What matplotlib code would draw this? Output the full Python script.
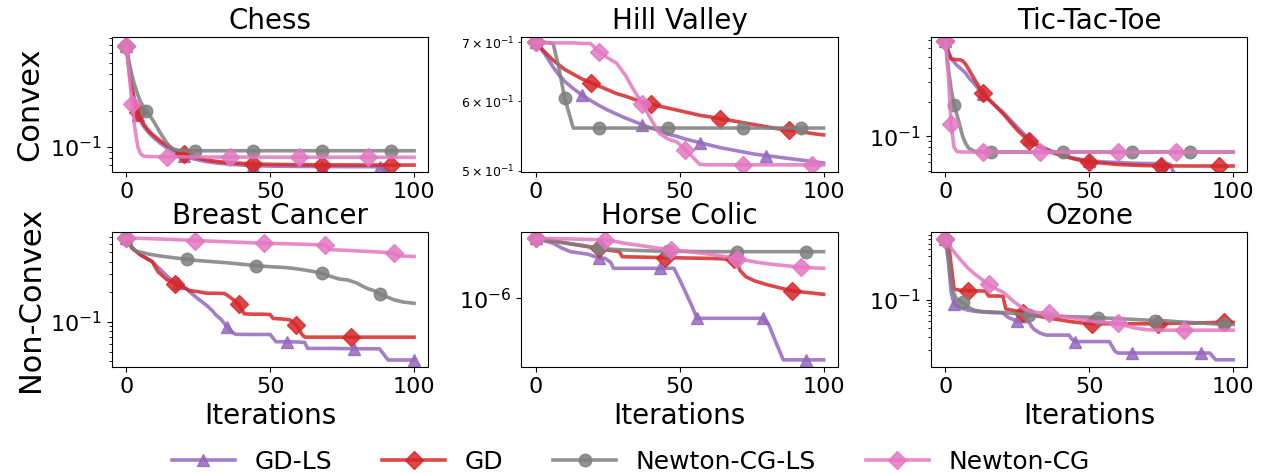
import matplotlib.pyplot as plt
from matplotlib.ticker import NullLocator

methods = ['GD-LS', 'GD', 'Newton-CG-LS', 'Newton-CG']
colors = ['tab:purple', 'tab:red', 'tab:gray', 'tab:pink']
markers = ['^', 'D', 'o', 'D']

# ---- Chess (convex) ----
chess_it = [0, 1, 2, 3, 4, 5, 6, 7, 8, 10, 12, 14, 16, 18, 20, 24, 28, 32, 36, 40,
            44, 48, 52, 56, 60, 64, 68, 72, 76, 80, 84, 88, 92, 96, 100]
chess_gd_ls = [0.693, 0.42, 0.29, 0.22, 0.185, 0.163, 0.148, 0.138, 0.129, 0.116, 0.106, 0.098,
               0.092, 0.087, 0.083, 0.0785, 0.075, 0.0728, 0.0714, 0.0703, 0.0696, 0.0691, 0.0688,
               0.0686, 0.0685, 0.0684, 0.0683, 0.0683, 0.0682, 0.0682, 0.0682, 0.0681, 0.059, 0.059, 0.059]
chess_gd = [0.693, 0.45, 0.31, 0.235, 0.195, 0.17, 0.155, 0.143, 0.134, 0.121, 0.111, 0.103,
            0.096, 0.091, 0.087, 0.081, 0.0775, 0.075, 0.0737, 0.0727, 0.072, 0.0715, 0.0712,
            0.071, 0.0708, 0.0707, 0.0706, 0.0705, 0.0705, 0.0704, 0.0704, 0.0704, 0.0703, 0.0703, 0.0703]
chess_ncg_ls = [0.693, 0.50, 0.39, 0.32, 0.27, 0.235, 0.215, 0.20, 0.185, 0.155, 0.128, 0.108,
                0.096, 0.0935, 0.093, 0.0925, 0.0925, 0.0925, 0.0925, 0.0925, 0.0925, 0.0925, 0.0925,
                0.0925, 0.0925, 0.0925, 0.0925, 0.0925, 0.0925, 0.0925, 0.0925, 0.0925, 0.0925, 0.0925, 0.0925]
chess_ncg = [0.693, 0.40, 0.227, 0.14, 0.10, 0.087, 0.0835, 0.083, 0.0828, 0.0826, 0.0825, 0.0824,
             0.0823, 0.0822, 0.0822, 0.0821, 0.082, 0.082, 0.0819, 0.0819, 0.0819, 0.0818, 0.0818,
             0.0818, 0.0818, 0.0817, 0.0817, 0.0817, 0.0817, 0.0817, 0.0816, 0.0816, 0.0816, 0.0816, 0.0816]

# ---- Hill Valley (convex) ----
hv_it = [0, 3, 6, 8, 10, 13, 16, 19, 22, 25, 28, 31, 34, 37, 40, 43, 46, 49, 52, 55, 57,
         60, 64, 68, 72, 76, 80, 84, 88, 92, 96, 100]
hv_gd_ls = [0.700, 0.680, 0.656, 0.643, 0.632, 0.620, 0.610, 0.601, 0.593, 0.586, 0.580, 0.574,
            0.569, 0.564, 0.559, 0.555, 0.550, 0.547, 0.543, 0.540, 0.538, 0.535, 0.531, 0.528,
            0.525, 0.522, 0.520, 0.518, 0.516, 0.514, 0.512, 0.510]
hv_gd = [0.700, 0.683, 0.668, 0.660, 0.652, 0.644, 0.636, 0.630, 0.624, 0.618, 0.612, 0.608,
         0.603, 0.599, 0.595, 0.592, 0.589, 0.586, 0.583, 0.580, 0.578, 0.576, 0.573, 0.570,
         0.567, 0.564, 0.561, 0.558, 0.556, 0.554, 0.551, 0.549]
hv_ncg_ls = [0.700, 0.700, 0.698, 0.655, 0.605, 0.559, 0.559, 0.559, 0.559, 0.559, 0.559, 0.559,
             0.559, 0.559, 0.559, 0.559, 0.559, 0.559, 0.559, 0.559, 0.559, 0.559, 0.559, 0.559,
             0.559, 0.559, 0.559, 0.559, 0.559, 0.559, 0.559, 0.559]
hv_ncg = [0.700, 0.700, 0.699, 0.699, 0.699, 0.699, 0.698, 0.698, 0.683, 0.672, 0.663, 0.643,
          0.618, 0.596, 0.572, 0.551, 0.543, 0.539, 0.528, 0.516, 0.508, 0.5075, 0.5075, 0.5075,
          0.5075, 0.5075, 0.5075, 0.5075, 0.5075, 0.5075, 0.5075, 0.5075]

# ---- Tic-Tac-Toe (convex) ----
ttt_it = [0, 1, 2, 3, 4, 5, 6, 7, 8, 10, 13, 16, 20, 25, 29, 33, 37, 41, 45, 50, 55, 60,
          65, 70, 75, 78, 80, 85, 90, 95, 100]
ttt_gd_ls = [0.693, 0.55, 0.48, 0.45, 0.42, 0.40, 0.38, 0.36, 0.33, 0.29, 0.235, 0.20, 0.163,
             0.12, 0.095, 0.082, 0.074, 0.068, 0.064, 0.061, 0.0595, 0.0588, 0.058, 0.0576,
             0.0573, 0.057, 0.044, 0.043, 0.043, 0.043, 0.043]
ttt_gd = [0.693, 0.55, 0.48, 0.475, 0.47, 0.47, 0.46, 0.43, 0.39, 0.32, 0.24, 0.20, 0.158,
          0.113, 0.091, 0.080, 0.072, 0.067, 0.063, 0.0595, 0.058, 0.0565, 0.0558, 0.0552,
          0.055, 0.0549, 0.0549, 0.0548, 0.0548, 0.0548, 0.0548]
ttt_ncg_ls = [0.693, 0.40, 0.26, 0.19, 0.155, 0.125, 0.10, 0.087, 0.079, 0.074, 0.0728, 0.0727,
              0.0727, 0.0727, 0.0727, 0.0727, 0.0727, 0.0727, 0.0727, 0.0727, 0.0727, 0.0727,
              0.0727, 0.0727, 0.0727, 0.0727, 0.0727, 0.0727, 0.0727, 0.0727, 0.0727]
ttt_ncg = [0.693, 0.35, 0.128, 0.08, 0.0735, 0.073, 0.0728, 0.0727, 0.0727, 0.0727, 0.0727,
           0.0727, 0.0727, 0.0727, 0.0727, 0.0727, 0.0727, 0.0727, 0.0727, 0.0727, 0.0727,
           0.0727, 0.0727, 0.0727, 0.0727, 0.0727, 0.0727, 0.0727, 0.0727, 0.0727, 0.0727]

# ---- Breast Cancer (non-convex) ----
bc_gd_ls_it = [0, 2, 5, 9, 12, 15, 18, 20, 22, 25, 28, 30, 31, 33, 35, 37, 38, 42, 46, 50,
               52, 56, 60, 62, 63, 67, 71, 75, 79, 83, 87, 88, 91, 95, 100]
bc_gd_ls = [0.693, 0.55, 0.47, 0.40, 0.33, 0.272, 0.245, 0.224, 0.20, 0.169, 0.145, 0.128,
            0.118, 0.105, 0.089, 0.078, 0.0748, 0.0745, 0.0745, 0.0745, 0.063, 0.063, 0.0625,
            0.062, 0.054, 0.054, 0.054, 0.0538, 0.0537, 0.0535, 0.0535, 0.0535, 0.0413, 0.0413, 0.0413]
bc_gd_it = [0, 2, 5, 9, 11, 14, 17, 19, 22, 25, 28, 31, 34, 35, 37, 39, 41, 44, 47, 50, 51,
            53, 55, 57, 59, 61, 62, 66, 70, 74, 78, 82, 86, 90, 94, 98, 100]
bc_gd = [0.693, 0.544, 0.466, 0.40, 0.317, 0.265, 0.24, 0.228, 0.205, 0.20, 0.193, 0.193,
         0.192, 0.185, 0.168, 0.15, 0.12, 0.119, 0.119, 0.118, 0.108, 0.107, 0.106, 0.104,
         0.093, 0.075, 0.070, 0.070, 0.070, 0.070, 0.070, 0.070, 0.070, 0.070, 0.070, 0.070, 0.070]
bc_ncg_ls_it = [0, 1, 2, 3, 4, 6, 8, 12, 16, 21, 25, 30, 35, 40, 45, 50, 55, 58, 62, 66, 68,
                71, 74, 77, 80, 82, 84, 86, 88, 90, 93, 96, 100]
bc_ncg_ls = [0.693, 0.62, 0.56, 0.52, 0.505, 0.49, 0.475, 0.455, 0.44, 0.423, 0.41, 0.40,
             0.39, 0.378, 0.365, 0.356, 0.35, 0.343, 0.33, 0.315, 0.306, 0.285, 0.268, 0.262,
             0.245, 0.228, 0.214, 0.205, 0.19, 0.18, 0.166, 0.158, 0.153]
bc_ncg_it = [0, 4, 8, 12, 16, 20, 24, 28, 32, 36, 40, 44, 48, 52, 56, 60, 64, 68, 69, 71,
             74, 78, 82, 86, 90, 93, 95, 100]
bc_ncg = [0.693, 0.687, 0.681, 0.675, 0.668, 0.660, 0.650, 0.645, 0.638, 0.632, 0.625, 0.618,
          0.612, 0.608, 0.604, 0.600, 0.595, 0.590, 0.588, 0.528, 0.523, 0.517, 0.510, 0.503,
          0.495, 0.487, 0.458, 0.450]

# ---- Horse Colic (non-convex) ----
hc_gd_ls_it = [0, 3, 6, 9, 12, 15, 18, 22, 24, 26, 27, 31, 35, 39, 43, 47, 48, 50, 52, 54,
               56, 60, 64, 68, 72, 76, 79, 81, 83, 86, 90, 94, 98, 100]
hc_gd_ls = [0.692, 0.398, 0.229, 0.0794, 0.0347, 0.0263, 0.02, 0.00832, 0.00794, 0.00316,
            8.3e-4, 8.3e-4, 8.3e-4, 8.3e-4, 8.3e-4, 8.3e-4, 8.3e-4, 6.3e-5, 4.0e-6, 2.5e-7,
            1.12e-8, 1.12e-8, 1.12e-8, 1.12e-8, 1.12e-8, 1.12e-8, 1.12e-8, 2.5e-9, 1.0e-10, 1.0e-12,
            1.0e-12, 1.0e-12, 1.0e-12, 1.0e-12]
hc_gd_it = [0, 2, 5, 8, 10, 13, 16, 19, 22, 25, 29, 30, 33, 37, 41, 45, 49, 53, 57, 61, 65,
            69, 70, 71, 73, 76, 80, 85, 89, 93, 97, 100]
hc_gd = [0.692, 0.562, 0.447, 0.316, 0.251, 0.178, 0.132, 0.0955, 0.0708, 0.0501, 0.0355,
         0.0112, 0.0107, 0.0102, 0.00955, 0.00912, 0.00871, 0.00832, 0.00794, 0.00759, 0.00692,
         0.00603, 0.00251, 5.0e-4, 1.26e-4, 5.0e-5, 2.24e-5, 1.0e-5, 5.5e-6, 3.98e-6, 3.02e-6, 2.45e-6]
hc_ncg_ls_it = [0, 2, 4, 6, 8, 10, 13, 16, 19, 22, 26, 30, 34, 38, 42, 46, 50, 54, 58, 62,
                66, 70, 74, 78, 82, 86, 90, 94, 98, 100]
hc_ncg_ls = [0.692, 0.55, 0.437, 0.355, 0.295, 0.251, 0.191, 0.145, 0.105, 0.0759, 0.0603,
             0.0525, 0.0468, 0.0427, 0.0398, 0.038, 0.0372, 0.0363, 0.0355, 0.0351, 0.0347,
             0.0347, 0.0347, 0.0347, 0.0347, 0.0347, 0.0347, 0.0347, 0.0347, 0.0347]
hc_ncg_it = [0, 4, 8, 12, 16, 20, 24, 28, 31, 35, 39, 43, 47, 51, 55, 59, 62, 66, 70, 73,
             76, 80, 84, 88, 92, 95, 98, 100]
hc_ncg = [0.692, 0.661, 0.631, 0.603, 0.562, 0.525, 0.479, 0.324, 0.224, 0.155, 0.107, 0.0741,
          0.0501, 0.0398, 0.0302, 0.0224, 0.0166, 0.0112, 0.00708, 0.00501, 0.00355, 0.0024,
          0.00178, 0.00138, 0.0011, 0.000955, 0.000871, 0.000832]

# ---- Ozone (non-convex) ----
oz_gd_ls_it = [0, 1, 2, 3, 4, 5, 6, 8, 11, 15, 18, 20, 21, 22, 25, 29, 30, 31, 33, 35, 39,
               43, 44, 45, 49, 53, 57, 58, 59, 60, 65, 70, 75, 80, 85, 89, 92, 93, 94, 97, 100]
oz_gd_ls = [0.693, 0.35, 0.128, 0.087, 0.082, 0.078, 0.075, 0.071, 0.068, 0.066, 0.0655,
            0.065, 0.060, 0.056, 0.050, 0.049, 0.042, 0.038, 0.034, 0.032, 0.032, 0.032, 0.028,
            0.026, 0.026, 0.026, 0.026, 0.022, 0.019, 0.018, 0.018, 0.018, 0.018, 0.018, 0.018,
            0.018, 0.018, 0.016, 0.0145, 0.0145, 0.0145]
oz_gd_it = [0, 1, 2, 3, 5, 8, 11, 14, 15, 18, 20, 21, 24, 27, 30, 33, 36, 40, 44, 48, 51,
            55, 59, 63, 67, 71, 74, 78, 82, 86, 90, 94, 97, 100]
oz_gd = [0.693, 0.66, 0.30, 0.14, 0.135, 0.133, 0.132, 0.131, 0.112, 0.112, 0.111, 0.074,
         0.070, 0.066, 0.061, 0.058, 0.055, 0.052, 0.049, 0.047, 0.046, 0.046, 0.046, 0.046,
         0.046, 0.046, 0.046, 0.0465, 0.047, 0.047, 0.0475, 0.048, 0.048, 0.048]
oz_ncg_ls_it = [0, 1, 2, 3, 4, 6, 8, 10, 13, 16, 20, 24, 29, 33, 37, 41, 45, 49, 53, 57, 61,
                65, 69, 73, 77, 81, 85, 89, 93, 97, 100]
oz_ncg_ls = [0.693, 0.40, 0.17, 0.12, 0.10, 0.091, 0.078, 0.071, 0.068, 0.067, 0.066, 0.064,
             0.061, 0.060, 0.059, 0.058, 0.0575, 0.057, 0.056, 0.055, 0.054, 0.053, 0.052,
             0.051, 0.0505, 0.049, 0.048, 0.047, 0.046, 0.0455, 0.045]
oz_ncg_it = [0, 1, 2, 3, 4, 6, 8, 10, 12, 15, 18, 20, 22, 24, 27, 29, 32, 36, 40, 45, 49,
             53, 57, 60, 63, 66, 70, 75, 79, 83, 87, 91, 95, 100]
oz_ncg = [0.693, 0.60, 0.52, 0.46, 0.41, 0.33, 0.27, 0.23, 0.20, 0.162, 0.138, 0.127, 0.108,
          0.092, 0.076, 0.069, 0.066, 0.064, 0.059, 0.055, 0.051, 0.049, 0.0475, 0.0467, 0.043,
          0.040, 0.038, 0.0375, 0.0375, 0.0375, 0.0375, 0.0375, 0.0375, 0.0375]

panels = [
    ('Chess', [(chess_it, chess_gd_ls), (chess_it, chess_gd), (chess_it, chess_ncg_ls), (chess_it, chess_ncg)],
     (0.0615, 0.82)),
    ('Hill Valley', [(hv_it, hv_gd_ls), (hv_it, hv_gd), (hv_it, hv_ncg_ls), (hv_it, hv_ncg)],
     (0.498, 0.71)),
    ('Tic-Tac-Toe', [(ttt_it, ttt_gd_ls), (ttt_it, ttt_gd), (ttt_it, ttt_ncg_ls), (ttt_it, ttt_ncg)],
     (0.0485, 0.745)),
    ('Breast Cancer', [(bc_gd_ls_it, bc_gd_ls), (bc_gd_it, bc_gd), (bc_ncg_ls_it, bc_ncg_ls), (bc_ncg_it, bc_ncg)],
     (0.0351, 0.794)),
    ('Horse Colic', [(hc_gd_ls_it, hc_gd_ls), (hc_gd_it, hc_gd), (hc_ncg_ls_it, hc_ncg_ls), (hc_ncg_it, hc_ncg)],
     (2.0e-13, 2.86)),
    ('Ozone', [(oz_gd_ls_it, oz_gd_ls), (oz_gd_it, oz_gd), (oz_ncg_ls_it, oz_ncg_ls), (oz_ncg_it, oz_ncg)],
     (0.0115, 0.87)),
]

fig, axes = plt.subplots(2, 3, figsize=(12.62, 4.73), dpi=100)
fig.subplots_adjust(left=0.0887, right=0.9885, top=0.9218, bottom=0.224, wspace=0.294, hspace=0.444)

for ax, (title, series, ylim) in zip(axes.flat, panels):
    for (it, vals), name, c, m in zip(series, methods, colors, markers):
        ax.plot(it, vals, color=c, marker=m, markevery=0.195, lw=2.6, ms=9, alpha=0.85, label=name)
    ax.set_yscale('log')
    ax.set_ylim(*ylim)
    ax.set_xlim(-5, 105)
    ax.set_xticks([0, 50, 100])
    ax.set_title(title, fontsize=20)
    ax.tick_params(axis='both', which='major', labelsize=16)
    ax.tick_params(axis='y', which='minor', labelsize=9)

# Horse Colic spans many decades: only one labelled tick
axes[1, 1].set_yticks([1e-6])
axes[1, 1].yaxis.set_minor_locator(NullLocator())

axes[0, 0].set_ylabel('Convex', fontsize=22)
axes[1, 0].set_ylabel('Non-Convex', fontsize=22)
for ax in axes[1]:
    ax.set_xlabel('Iterations', fontsize=20)

handles, labels = axes[0, 0].get_legend_handles_labels()
fig.legend(handles, labels, loc='lower center', ncol=4, frameon=False, fontsize=18,
           bbox_to_anchor=(0.5, -0.05), handlelength=2.5, columnspacing=2.0)

fig.savefig('out.png', dpi=100)
